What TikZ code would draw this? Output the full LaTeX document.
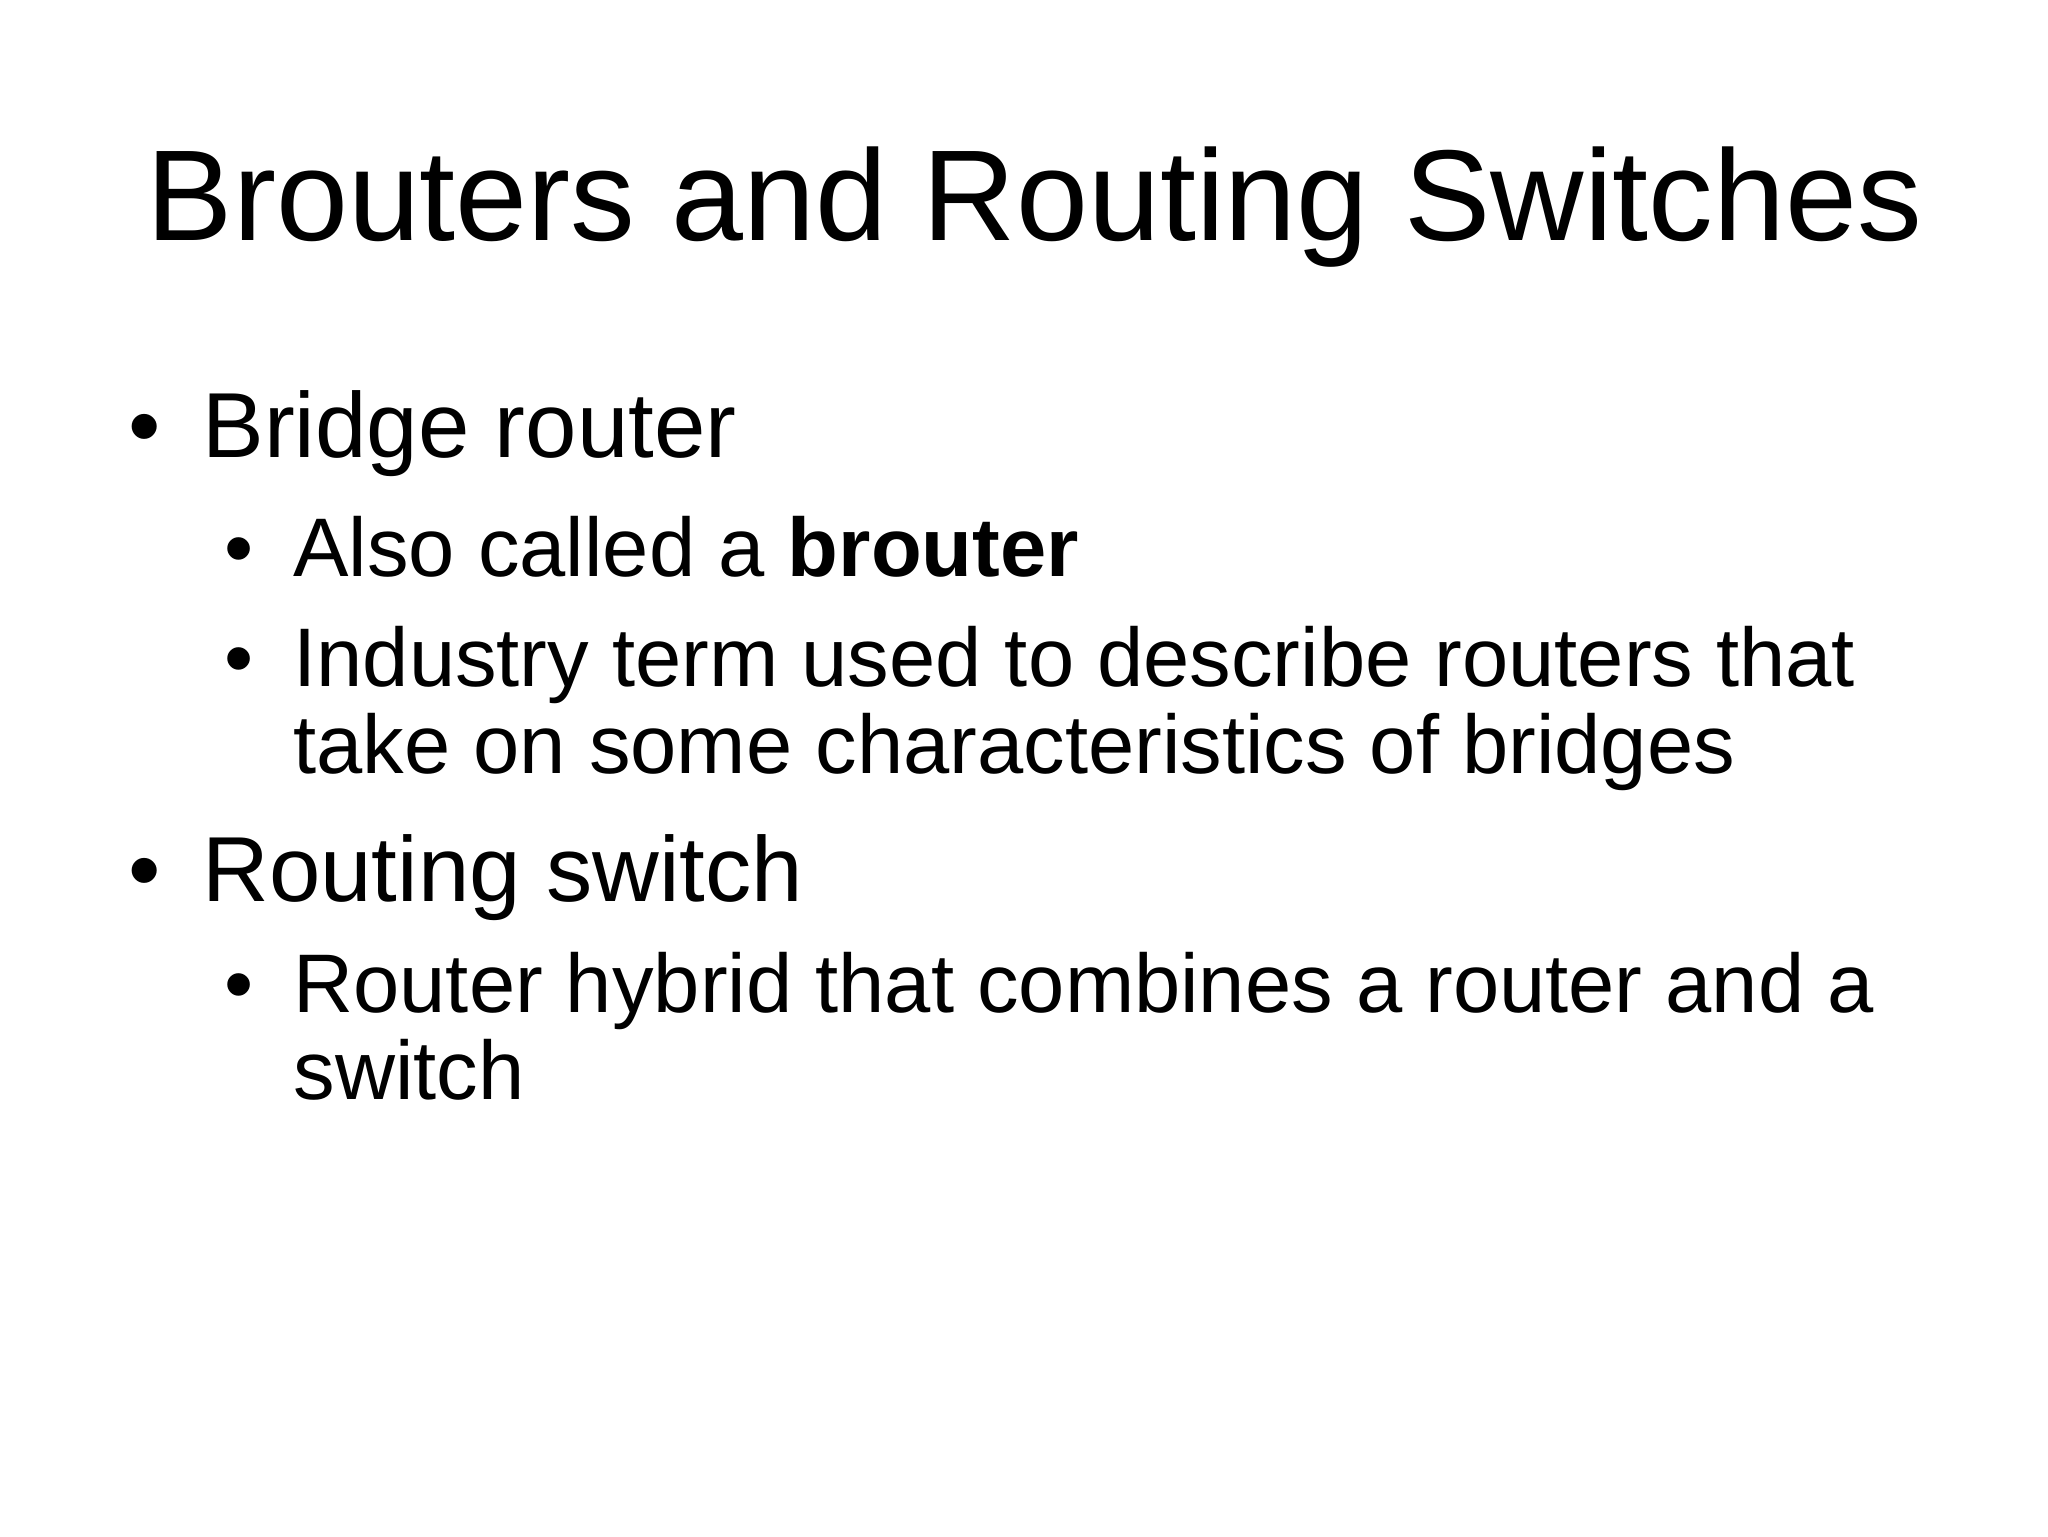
\documentclass[tikz,border=0pt]{standalone}
\usepackage{fontspec}
\setmainfont{Liberation Sans}
\begin{document}
\begin{tikzpicture}[x=0.5pt,y=-0.5pt,
  ttl/.style={anchor=base,inner sep=0pt,font=\fontsize{49}{58}\selectfont},
  lone/.style={anchor=base west,inner sep=0pt,font=\fontsize{35}{42}\selectfont},
  ltwo/.style={anchor=base west,inner sep=0pt,font=\fontsize{31.5}{38}\selectfont}]
\useasboundingbox (0,0) rectangle (1552,1164);
\node[ttl] (title) at (784,182) {Brouters and Routing Switches};
\node[lone] (b1) at (97,347) {•};
\node[lone] (t1) at (153,347) {Bridge router};
\node[ltwo] (b11) at (170,437) {•};
\node[ltwo] (t11) at (222,437) {Also called a \textbf{brouter}};
\node[ltwo] (b12) at (170,520) {•};
\node[ltwo] (t12) at (222,520) {Industry term used to describe routers that};
\node[ltwo] (t12b) at (222,586) {take on some characteristics of bridges};
\node[lone] (b2) at (97,683) {•};
\node[lone] (t2) at (153,683) {Routing switch};
\node[ltwo] (b21) at (170,767) {•};
\node[ltwo] (t21) at (222,767) {Router hybrid that combines a router and a};
\node[ltwo] (t21b) at (222,833) {switch};
\end{tikzpicture}
\end{document}
